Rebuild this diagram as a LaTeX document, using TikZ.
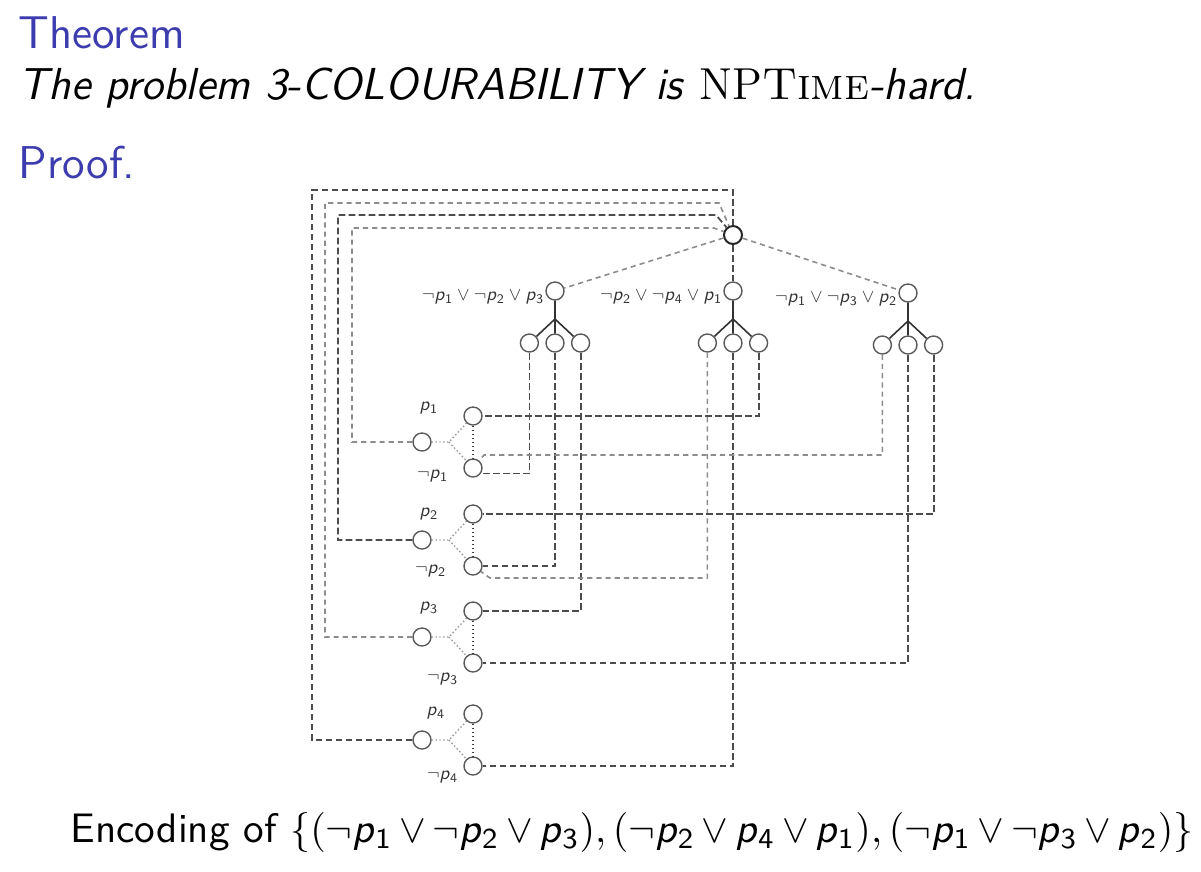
\documentclass[tikz,border=0pt]{standalone}
\usetikzlibrary{positioning}
\definecolor{structure}{RGB}{60,60,175}
\newcommand{\lit}[1]{\mbox{\textit{p}\textsubscript{#1}}}
\tikzset{
	vert/.style={circle,draw=black!65,line width=0.35pt,minimum size=4.5pt,inner sep=0pt},
	wire/.style={dash pattern=on 1.7pt off 0.8pt,line width=0.45pt,draw=black!70},
	wirelight/.style={dash pattern=on 1.3pt off 1pt,line width=0.4pt,draw=black!45},
	tie/.style={dash pattern=on 0.35pt off 0.6pt,line width=0.35pt,draw=black!40},
	rung/.style={dash pattern=on 0.4pt off 0.6pt,line width=0.5pt,draw=black!75},
	arm/.style={line width=0.4pt,draw=black!80},
	lbl/.style={font=\sffamily\fontsize{10}{12}\selectfont,scale=0.47,inner sep=0.5pt,text=black!80},
	slide/.style={font=\sffamily\fontsize{11.5}{13.8}\selectfont,inner sep=0pt,anchor=base west},
}
\begin{document}
\begin{tikzpicture}[x=0.25pt,y=-0.25pt,on grid]
		\useasboundingbox (0,0) rectangle (1201,871);
		% slide text
		\node[slide,text=structure](thm) at (18,48){Theorem};
		\node[slide,font=\sffamily\fontsize{11.2}{13.8}\selectfont](stmt) at (18,99){\textit{The problem 3-COLOURABILITY is} \textrm{NP\textsc{Time}}\textit{-hard.}};
		\node[slide,text=structure](prf) at (18,178){Proof.};
		\node[slide,font=\sffamily\fontsize{10.3}{12}\selectfont](enc) at (70,842){\medmuskip=3mu Encoding of $\{(\neg\lit1\vee\neg\lit2\vee\lit3),(\neg\lit2\vee\lit4\vee\lit1),(\neg\lit1\vee\neg\lit3\vee\lit2)\}$};
		% root and clauses
		\node[vert,line width=0.5pt,draw=black!85](root) at (733,235){};
		\node[vert,label={[yshift=-1.5pt,lbl]left:$\neg\lit1\vee\neg\lit2\vee\lit3$}](c1) at (555,291){};
		\node[vert,label={[yshift=-1.5pt,lbl]left:$\neg\lit2\vee\neg\lit4\vee\lit1$}](c2) at (733,291){};
		\node[vert,label={[yshift=-1.5pt,lbl]left:$\neg\lit1\vee\neg\lit3\vee\lit2$}](c3) at (908,293){};
		\coordinate[below=7pt of c1](j1);
		\coordinate[below=7pt of c2](j2);
		\coordinate[below=7pt of c3](j3);
		\node[vert,below=13pt of c1](c1b){};
		\node[vert,left=6.4pt of c1b](c1a){};
		\node[vert,right=6.4pt of c1b](c1c){};
		\node[vert,below=13pt of c2](c2b){};
		\node[vert,left=6.4pt of c2b](c2a){};
		\node[vert,right=6.4pt of c2b](c2c){};
		\node[vert,below=13pt of c3](c3b){};
		\node[vert,left=6.4pt of c3b](c3a){};
		\node[vert,right=6.4pt of c3b](c3c){};
		% variables
		\node[vert](b1) at (422,442){};
		\node[vert](b2) at (422,540){};
		\node[vert](b3) at (422,637){};
		\node[vert](b4) at (422,740){};
		\node[vert,above right=6.5pt and 12.75pt of b1,label={[xshift=-6pt,yshift=2pt,lbl]left:$\lit1$}](p1){};
		\node[vert,below right=6.5pt and 12.75pt of b1,label={[xshift=-3.5pt,yshift=-2pt,lbl]left:$\neg\lit1$}](n1){};
		\node[vert,above right=6.5pt and 12.75pt of b2,label={[xshift=-6pt,lbl]left:$\lit2$}](p2){};
		\node[vert,below right=6.5pt and 12.75pt of b2,label={[xshift=-4pt,yshift=-1.25pt,lbl]left:$\neg\lit2$}](n2){};
		\node[vert,above right=6.5pt and 12.75pt of b3,label={[xshift=-6pt,yshift=0.75pt,lbl]left:$\lit3$}](p3){};
		\node[vert,below right=6.5pt and 12.75pt of b3,label={[xshift=-1pt,yshift=-4pt,lbl]left:$\neg\lit3$}](n3){};
		\node[vert,above right=6.5pt and 12.75pt of b4,label={[xshift=-4.25pt,yshift=0.25pt,lbl]left:$\lit4$}](p4){};
		\node[vert,below right=6.5pt and 12.75pt of b4,label={[xshift=-1pt,yshift=-2.75pt,lbl]left:$\neg\lit4$}](n4){};
		\coordinate[right=6.75pt of b1](f1);
		\coordinate[right=6.75pt of b2](f2);
		\coordinate[right=6.75pt of b3](f3);
		\coordinate[right=6.75pt of b4](f4);
		% clause trees
		\draw[arm] (c1) -- (j1) -- (c1a) (j1) -- (c1b) (j1) -- (c1c);
		\draw[arm] (c2) -- (j2) -- (c2a) (j2) -- (c2b) (j2) -- (c2c);
		\draw[arm] (c3) -- (j3) -- (c3a) (j3) -- (c3b) (j3) -- (c3c);
		% variable gadgets
		\draw[tie] (b1) -- (f1) -- (p1) (f1) -- (n1);
		\draw[tie] (b2) -- (f2) -- (p2) (f2) -- (n2);
		\draw[tie] (b3) -- (f3) -- (p3) (f3) -- (n3);
		\draw[tie] (b4) -- (f4) -- (p4) (f4) -- (n4);
		\draw[rung] (p1) -- (n1);
		\draw[rung] (p2) -- (n2);
		\draw[rung] (p3) -- (n3);
		\draw[rung] (p4) -- (n4);
		% root to clauses and variables
		\draw[wirelight] (root) -- (c1);
		\draw[wire] (root) -- (c2);
		\draw[wirelight] (root) -- (c3);
		\draw[wire] (b4) -| (312,190) -| (root);
		\draw[wirelight] (b3) -| (325,203) -- (719,203) -- (root);
		\draw[wire] (b2) -| (338,215) -- (716,215) -- (root);
		\draw[wirelight] (b1) -| (352,228) -- (714,228) -- (root);
		% clauses to literals
		\draw[wire] (c1a) |- (n1.-35);
		\draw[wire] (c1b) |- (n2);
		\draw[wire] (c1c) |- (p3);
		\draw[wirelight] (c2a) |- (490,578) -- (n2);
		\draw[wire] (c2b) |- (n4);
		\draw[wire] (c2c) |- (p1);
		\draw[wirelight] (c3a) |- (484,455) -- (n1);
		\draw[wire] (c3b) |- (n3);
		\draw[wire] (c3c) |- (p2);
		\end{tikzpicture}
\end{document}
